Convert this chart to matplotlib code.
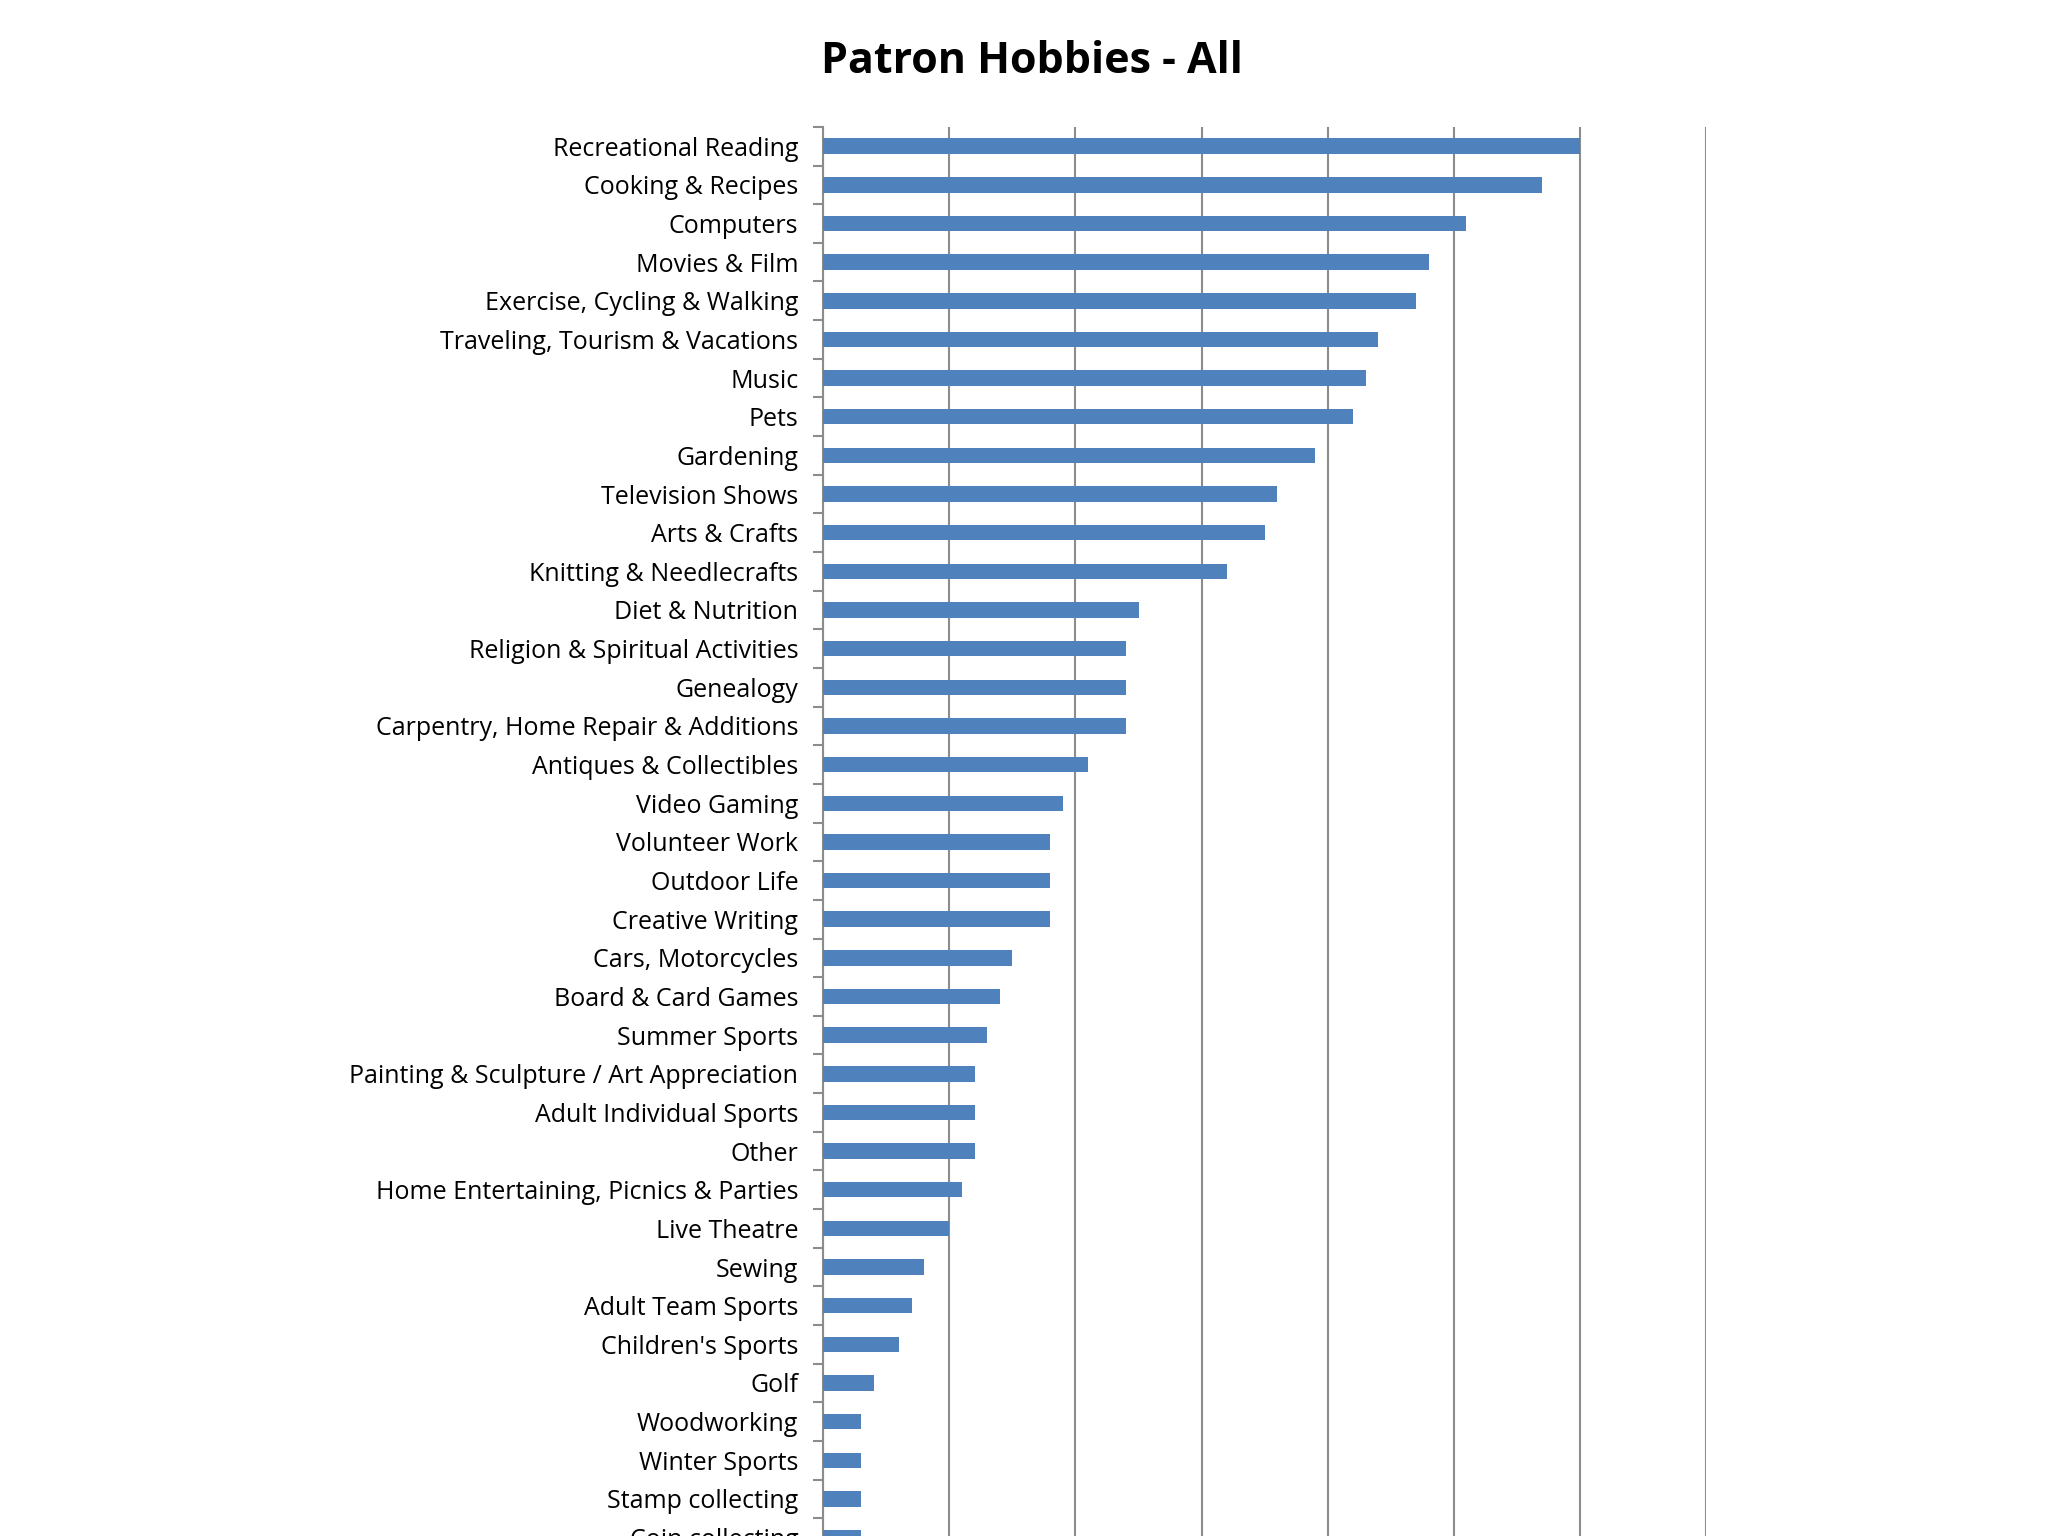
import numpy as np
import matplotlib
matplotlib.use('Agg')
import matplotlib.pyplot as plt

hobbies = [
    'Recreational Reading', 'Cooking & Recipes', 'Computers', 'Movies & Film',
    'Exercise, Cycling & Walking', 'Traveling, Tourism & Vacations', 'Music', 'Pets',
    'Gardening', 'Television Shows', 'Arts & Crafts', 'Knitting & Needlecrafts',
    'Diet & Nutrition', 'Religion & Spiritual Activities', 'Genealogy',
    'Carpentry, Home Repair & Additions', 'Antiques & Collectibles', 'Video Gaming',
    'Volunteer Work', 'Outdoor Life', 'Creative Writing', 'Cars, Motorcycles',
    'Board & Card Games', 'Summer Sports', 'Painting & Sculpture / Art Appreciation',
    'Adult Individual Sports', 'Other', 'Home Entertaining, Picnics & Parties',
    'Live Theatre', 'Sewing', 'Adult Team Sports', "Children's Sports", 'Golf',
    'Woodworking', 'Winter Sports', 'Stamp collecting', 'Coin collecting',
]
counts = [60, 57, 51, 48, 47, 44, 43, 42, 39, 36, 35, 32, 25, 24, 24, 24, 21, 19,
          18, 18, 18, 15, 14, 13, 12, 12, 12, 11, 10, 8, 7, 6, 4, 3, 3, 3, 3]

plt.rcParams['font.family'] = ['Open Sans', 'DejaVu Sans']
fig = plt.figure(figsize=(20.48, 15.36), dpi=100)
ax = fig.add_axes([0.402, -0.0136, 0.431, 0.931])

y = np.arange(len(hobbies))
ax.barh(y, counts, height=0.4, color='#4F81BD', zorder=3)
ax.set_ylim(len(hobbies) - 0.5, -0.5)
ax.set_xlim(0, 70)
ax.set_xticks(np.arange(0, 71, 10))
ax.xaxis.grid(True, color='#8c8c8c', linewidth=1.5)
ax.tick_params(axis='x', bottom=False, labelbottom=False)
ax.set_yticks(y)
ax.set_yticklabels(hobbies, fontsize=18)
ax.tick_params(axis='y', length=0, pad=18)
ax.set_yticks(np.arange(-0.5, len(hobbies), 1), minor=True)
ax.tick_params(axis='y', which='minor', length=7, color='#8c8c8c', width=1.5)
for s in ['top', 'right', 'bottom']:
    ax.spines[s].set_visible(False)
ax.spines['left'].set_color('#8c8c8c')
ax.spines['left'].set_linewidth(1.5)

fig.text(0.504, 0.96, 'Patron Hobbies - All', ha='center', va='center',
         fontsize=31, fontweight='bold')
fig.savefig('out.png', dpi=100)
